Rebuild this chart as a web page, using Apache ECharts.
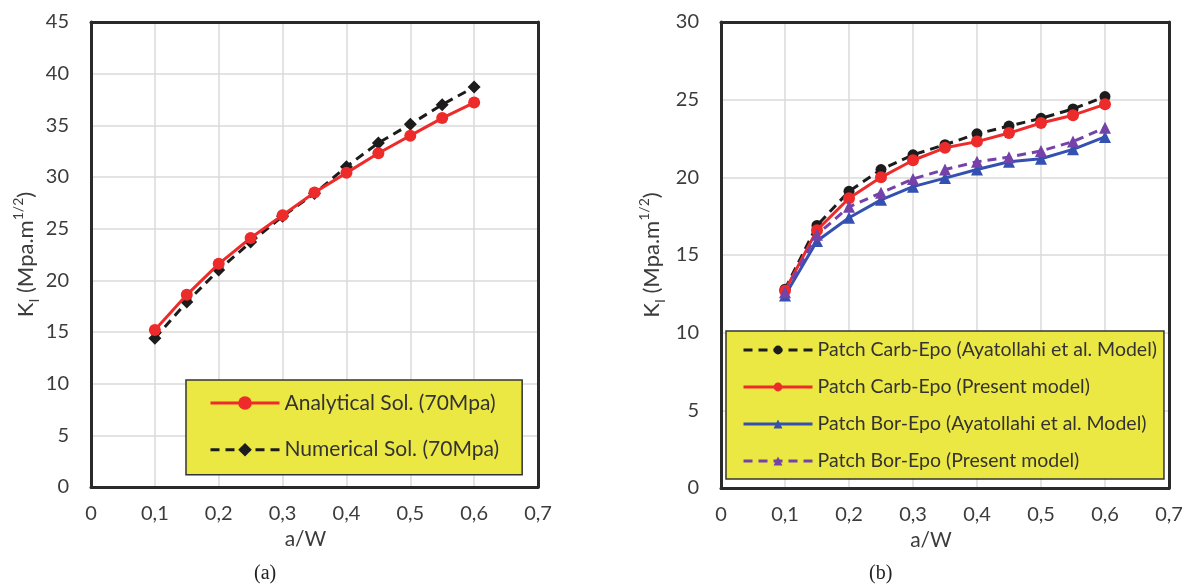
<!DOCTYPE html>
<html>
<head>
<meta charset="utf-8">
<script src="https://cdn.jsdelivr.net/npm/echarts@6/dist/echarts.min.js"></script>
<style>
html,body{margin:0;padding:0;background:#fff;}
#chart{width:1191px;height:586px;}
</style>
</head>
<body>
<div id="chart"></div>
<script>
// ---- data ----
var aW = [0.1, 0.15, 0.2, 0.25, 0.3, 0.35, 0.4, 0.45, 0.5, 0.55, 0.6];
var analytical = [15.2, 18.6, 21.6, 24.1, 26.3, 28.5, 30.4, 32.3, 34.0, 35.7, 37.2];
var numerical  = [14.4, 17.9, 21.0, 23.7, 26.2, 28.4, 31.0, 33.3, 35.1, 37.0, 38.7];
var carbAyat    = [12.8, 16.9, 19.1, 20.5, 21.45, 22.1, 22.8, 23.3, 23.8, 24.4, 25.2];
var carbPresent = [12.7, 16.6, 18.65, 20.0, 21.1, 21.9, 22.3, 22.85, 23.5, 24.0, 24.7];
var borAyat     = [12.4, 15.9, 17.4, 18.55, 19.4, 19.95, 20.5, 21.0, 21.2, 21.8, 22.6];
var borPresent  = [12.6, 16.3, 18.1, 19.0, 19.9, 20.5, 21.0, 21.3, 21.7, 22.3, 23.2];
var xTicks = [0, 0.1, 0.2, 0.3, 0.4, 0.5, 0.6, 0.7];
var namesA = ['Analytical Sol. (70Mpa)', 'Numerical Sol. (70Mpa)'];
var namesB = ['Patch Carb-Epo (Ayatollahi et al. Model)', 'Patch Carb-Epo (Present model)',
              'Patch Bor-Epo (Ayatollahi et al. Model)', 'Patch Bor-Epo (Present model)'];

function pairs(ys) { return aW.map(function (x, i) { return [x, ys[i]]; }); }

var FONT = 'Lato';
var TXT = '#3c3c3c';
var FRAME = { show: true, onZero: false, lineStyle: { color: '#2a2a2a', width: 3 } };
function xAxisCfg(gi, shift) {
  return {
    gridIndex: gi, type: 'value', min: 0, max: 0.7, interval: 0.1, position: 'bottom',
    name: 'a/W', nameLocation: 'middle', nameGap: 32,
    nameTextStyle: { fontFamily: FONT, fontSize: 21, color: TXT, padding: [0, shift, 0, 0] },
    axisLine: FRAME, axisTick: { show: false },
    axisLabel: { margin: 17, fontFamily: FONT, fontSize: 20, color: TXT,
      formatter: function (v) { return String(+v.toFixed(1)).replace('.', ','); } },
    splitLine: { show: true, showMinLine: false, showMaxLine: false, lineStyle: { color: '#dadada', width: 1.5 } }
  };
}
function xFrameTop(gi) {
  return { gridIndex: gi, type: 'value', min: 0, max: 0.7, interval: 0.1, position: 'top',
    axisLine: FRAME, axisTick: { show: false }, axisLabel: { show: false }, splitLine: { show: false } };
}
function yAxisCfg(gi, max, gap) {
  return {
    gridIndex: gi, type: 'value', min: 0, max: max, interval: 5, position: 'left',
    name: '{n|K}{sub|I}{n| (Mpa.m}{sup|1/2}{n|)}', nameLocation: 'middle', nameGap: gap, nameRotate: 90,
    nameTextStyle: {
      fontFamily: FONT, color: TXT,
      rich: {
        n: { fontFamily: FONT, fontSize: 22, color: TXT, lineHeight: 30, verticalAlign: 'middle' },
        sup: { fontFamily: FONT, fontSize: 14, color: TXT, lineHeight: 14, verticalAlign: 'top' },
        sub: { fontFamily: FONT, fontSize: 14, color: TXT, lineHeight: 14, verticalAlign: 'bottom' }
      }
    },
    axisLine: FRAME, axisTick: { show: false },
    axisLabel: { margin: 22, fontFamily: FONT, fontSize: 20, color: TXT },
    splitLine: { show: true, showMinLine: false, showMaxLine: false, lineStyle: { color: '#dadada', width: 1.5 } }
  };
}
function yFrameRight(gi, max) {
  return { gridIndex: gi, type: 'value', min: 0, max: max, interval: 5, position: 'right',
    axisLine: FRAME, axisTick: { show: false }, axisLabel: { show: false }, splitLine: { show: false } };
}

var chart = echarts.init(document.getElementById('chart'), null, { renderer: 'canvas' });
chart.setOption({
  backgroundColor: '#ffffff',
  animation: false,
  grid: [
    { left: 91, top: 22, width: 447, height: 465 },
    { left: 721, top: 22, width: 448, height: 466 }
  ],
  xAxis: [xAxisCfg(0, 18), xAxisCfg(1, 28), xFrameTop(0), xFrameTop(1)],
  yAxis: [yAxisCfg(0, 45, 50), yAxisCfg(1, 30, 54), yFrameRight(0, 45), yFrameRight(1, 30)],
  legend: [
    {
      data: namesA, orient: 'vertical', left: 186, top: 380, z: 6,
      padding: [11, 23, 13, 23], itemGap: 22.7, itemWidth: 69, itemHeight: 17,
      backgroundColor: '#ece843', borderColor: '#333', borderWidth: 1.5,
      lineStyle: { width: 3 },
      textStyle: { fontFamily: FONT, fontSize: 21, color: '#333', lineHeight: 24 },
      selectedMode: false
    },
    {
      data: namesB, orient: 'vertical', left: 726, top: 331, z: 6,
      padding: [8, 7, 7, 16], itemGap: 15, itemWidth: 69, itemHeight: 11,
      backgroundColor: '#ece843', borderColor: '#333', borderWidth: 1.5,
      lineStyle: { width: 3 },
      textStyle: { fontFamily: FONT, fontSize: 19.5, color: '#333', lineHeight: 22 },
      selectedMode: false
    }
  ],
  series: [
    { name: namesA[0], type: 'line', xAxisIndex: 0, yAxisIndex: 0, data: pairs(analytical),
      symbol: 'circle', symbolSize: 12, z: 3,
      lineStyle: { color: '#ee2b2b', width: 3 }, itemStyle: { color: '#ee2b2b' } },
    { name: namesA[1], type: 'line', xAxisIndex: 0, yAxisIndex: 0, data: pairs(numerical),
      symbol: 'diamond', symbolSize: 13, z: 2,
      lineStyle: { color: '#1c1c1c', width: 3, type: [9, 6] }, itemStyle: { color: '#1c1c1c' } },
    { name: namesB[0], type: 'line', xAxisIndex: 1, yAxisIndex: 1, data: pairs(carbAyat),
      symbol: 'circle', symbolSize: 11, z: 2,
      lineStyle: { color: '#1c1c1c', width: 3, type: [9, 6] }, itemStyle: { color: '#1c1c1c' } },
    { name: namesB[1], type: 'line', xAxisIndex: 1, yAxisIndex: 1, data: pairs(carbPresent),
      symbol: 'circle', symbolSize: 12, z: 3,
      lineStyle: { color: '#ee2b2b', width: 3 }, itemStyle: { color: '#ee2b2b' } },
    { name: namesB[2], type: 'line', xAxisIndex: 1, yAxisIndex: 1, data: pairs(borAyat),
      symbol: 'triangle', symbolSize: 12, z: 2,
      lineStyle: { color: '#3450b0', width: 3 }, itemStyle: { color: '#3450b0' } },
    { name: namesB[3], type: 'line', xAxisIndex: 1, yAxisIndex: 1, data: pairs(borPresent),
      symbol: 'triangle', symbolSize: 12, z: 3,
      lineStyle: { color: '#7442a8', width: 3, type: [9, 6] }, itemStyle: { color: '#7442a8' } }
  ],
  graphic: [
    { type: 'text', left: 254, top: 564, style: { text: '(a)', font: '20px "Liberation Serif"', fill: '#222' } },
    { type: 'text', left: 869, top: 564, style: { text: '(b)', font: '20px "Liberation Serif"', fill: '#222' } }
  ]
});
</script>
</body>
</html>
